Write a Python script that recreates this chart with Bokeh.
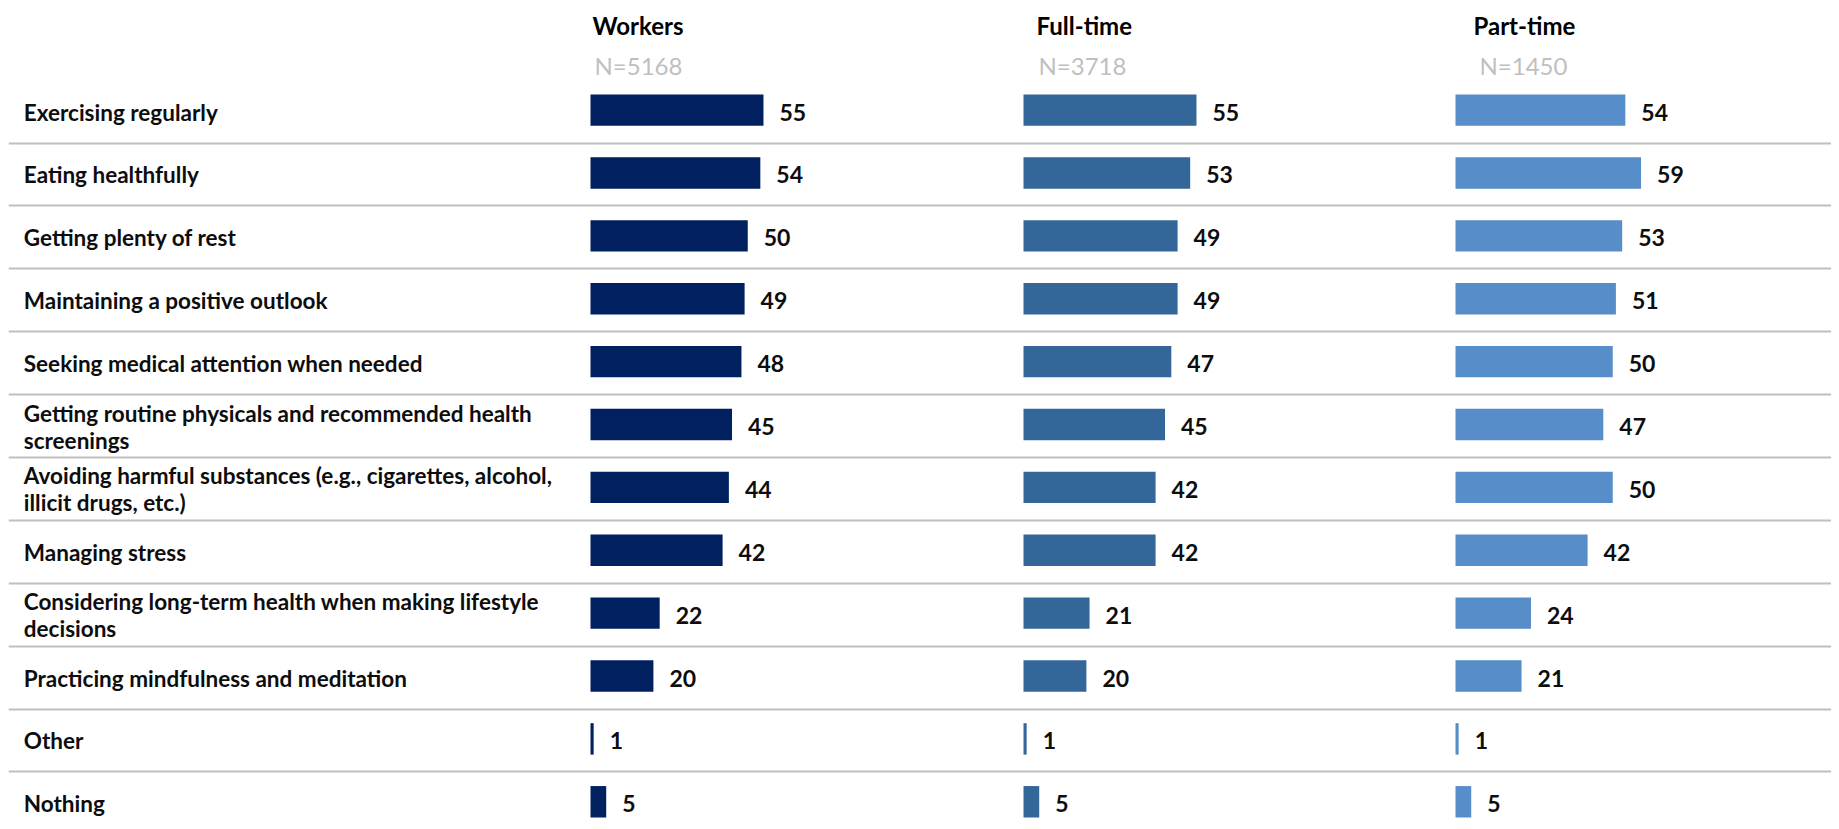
from bokeh.plotting import figure
from bokeh.models import Range1d, ColumnDataSource
from bokeh.core.properties import value
from bokeh.embed import file_html
from bokeh.resources import INLINE

# ---- data ----
categories = [
    "Exercising regularly",
    "Eating healthfully",
    "Getting plenty of rest",
    "Maintaining a positive outlook",
    "Seeking medical attention when needed",
    "Getting routine physicals and recommended health\nscreenings",
    "Avoiding harmful substances (e.g., cigarettes, alcohol,\nillicit drugs, etc.)",
    "Managing stress",
    "Considering long-term health when making lifestyle\ndecisions",
    "Practicing mindfulness and meditation",
    "Other",
    "Nothing",
]
workers = [55, 54, 50, 49, 48, 45, 44, 42, 22, 20, 1, 5]
full_time = [55, 53, 49, 49, 47, 45, 42, 42, 21, 20, 1, 5]
part_time = [54, 59, 53, 51, 50, 47, 50, 42, 24, 21, 1, 5]
series_names = ["Workers", "Full-time", "Part-time"]
sample_sizes = ["N=5168", "N=3718", "N=1450"]

# ---- layout / style ----
MARGIN = 8
FW, FH = 1823, 813          # frame size
PX_PER_UNIT = 3.145
ROW_PX = 62.88
ROW0_PX = 101.6
panel_start_px = [582, 1015, 1447]
header_x_px = [584, 1028, 1465]
nlabel_x_px = [586, 1030, 1471]
HEADER_Y_PX = 16.5
NLABEL_Y_PX = 57.3
colors = ["#002060", "#336699", "#578DC8"]
FONT = value("Lato")

n = len(categories)
rows = list(range(n))
y_top = -ROW0_PX / ROW_PX
y_bottom = y_top + FH / ROW_PX

p = figure(width=FW + MARGIN, height=FH + MARGIN, output_backend="svg",
           toolbar_location=None,
           x_range=Range1d(0, FW / PX_PER_UNIT), y_range=Range1d(y_bottom, y_top),
           min_border_left=MARGIN, min_border_top=MARGIN,
           min_border_right=0, min_border_bottom=0, outline_line_color=None)
p.axis.visible = False
p.grid.visible = False
p.background_fill_color = "white"
p.border_fill_color = "white"

# separators between rows
seps = [r + 0.525 for r in rows[:-1]]
p.hspan(y=seps, line_color="#BFBFBF", line_width=2)

# category labels
p.text(x=[15.3 / PX_PER_UNIT] * n, y=rows, text=categories,
       text_font=FONT, text_font_style="bold", text_font_size="22.5px",
       text_color="#0D0D0D", text_align="left", text_baseline="middle",
       text_line_height=1.0, y_offset=2)

for k, vals in enumerate([workers, full_time, part_time]):
    off = panel_start_px[k] / PX_PER_UNIT
    src = ColumnDataSource(dict(
        y=rows,
        left=[off] * n,
        right=[off + v for v in vals],
        lx=[off + v + 16 / PX_PER_UNIT for v in vals],
        lab=[str(v) for v in vals],
    ))
    p.hbar(y="y", left="left", right="right", height=0.5, source=src,
           fill_color=colors[k], line_color=None)
    p.text(x="lx", y="y", text="lab", source=src,
           text_font=FONT, text_font_style="bold", text_font_size="23px",
           text_color="#0D0D0D", text_align="left", text_baseline="middle",
           y_offset=2)

# column headers and sample sizes
p.text(x=[x / PX_PER_UNIT for x in header_x_px],
       y=[y_top + HEADER_Y_PX / ROW_PX] * 3, text=series_names,
       text_font=FONT, text_font_style="bold", text_font_size="24px",
       text_color="#000000", text_align="left", text_baseline="middle")
p.text(x=[x / PX_PER_UNIT for x in nlabel_x_px],
       y=[y_top + NLABEL_Y_PX / ROW_PX] * 3, text=sample_sizes,
       text_font=FONT, text_font_size="24px",
       text_color="#BFBFBF", text_align="left", text_baseline="middle")

open("out.html", "w").write(file_html(p, INLINE))
